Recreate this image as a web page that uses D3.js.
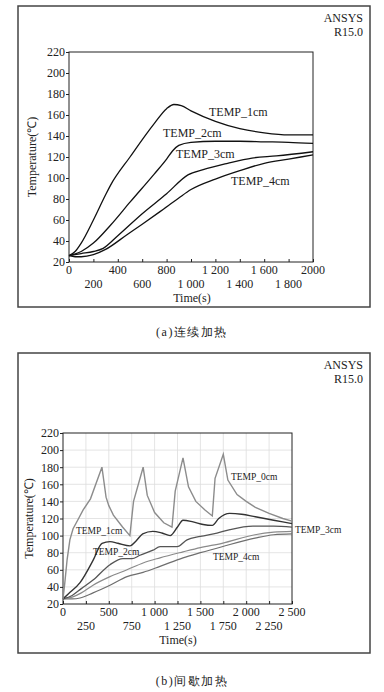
<!DOCTYPE html>
<html>
<head>
<meta charset="utf-8">
<script src="https://cdn.jsdelivr.net/npm/d3@7"></script>
<style>
  body { margin: 0; background: #fff; }
  text { font-family: "Liberation Serif", "Times New Roman", serif; fill: #222; }
</style>
</head>
<body>
<div id="chart"></div>
<script>
// (a) continuous heating, [time s, temperature C]
const contTemp1 = [[0,26],[50,30],[100,38],[200,60],[300,84],[340,93],[500,120],[700,152],[800,166],[860,170],[920,169],[1000,164],[1200,154],[1400,147],[1600,143],[1800,141],[2000,141]];
const contTemp2 = [[0,26],[100,30],[200,38],[340,55],[500,77],[700,104],[800,118],[850,126],[900,131],[1000,134],[1200,135],[1400,135],[1600,134.5],[1800,134],[2000,133]];
const contTemp3 = [[0,26],[100,28],[200,30],[280,33],[400,45],[600,66],[800,85],[975,103],[1100,108],[1300,114],[1500,119],[1700,121],[2000,125]];
const contTemp4 = [[0,26],[50,25],[100,25],[200,27],[300,32],[475,46],[600,56],[746,68],[900,81],[1000,89],[1200,99],[1400,107],[1600,114],[1800,118],[2000,122]];

// (b) intermittent heating
const intTemp0 = [[0,26],[20,45],[45,72],[75,95],[110,108],[160,118],[220,130],[300,143],[425,180],[470,145],[500,135],[550,124],[650,110],[730,100],[770,140],[875,180],[920,147],[1000,127],[1100,115],[1190,110],[1225,152],[1310,191],[1370,157],[1450,140],[1550,130],[1630,123],[1660,167],[1750,195],[1800,165],[1900,148],[2000,140],[2100,133],[2250,126],[2400,120],[2500,117]];
const intTemp1 = [[0,26],[60,32],[186,45],[328,71],[426,91],[513,93],[600,91],[731,88],[800,94],[870,102],[980,105],[1080,103],[1170,100],[1250,110],[1310,118],[1420,116],[1530,113],[1630,112],[1700,120],[1820,126],[1950,125],[2100,122],[2300,118],[2500,114]];
const intTemp2 = [[0,26],[100,30],[200,38],[328,48],[513,66],[655,73],[753,73],[840,77],[983,83],[1060,87],[1245,87],[1354,95],[1500,99],[1681,103],[1823,107],[2074,111],[2300,111],[2500,110]];
const intTemp3 = [[0,26],[100,28],[200,33],[328,42],[513,52],[699,60],[874,68],[1059,74],[1310,81],[1500,86],[1736,91],[2096,101],[2300,104],[2500,105]];
const intTemp4 = [[0,26],[100,26],[186,27],[328,33],[513,42],[699,52],[874,57],[1059,64],[1310,74],[1500,80],[1736,87],[2096,97],[2300,101],[2500,102]];

const yTicks = [20,40,60,80,100,120,140,160,180,200,220];
const contXTicks = [0,200,400,600,800,1000,1200,1400,1600,1800,2000];
const contXLabels = ["0","200","400","600","800","1 000","1 200","1 400","1 600","1 800","2000"];
const intXTicks = [0,250,500,750,1000,1250,1500,1750,2000,2250,2500];
const intXLabels = ["0","250","500","750","1 000","1 250","1 500","1 750","2 000","2 250","2 500"];

const svg = d3.select("#chart").append("svg")
    .attr("width", 384).attr("height", 692);
svg.append("rect").attr("width", 384).attr("height", 692).attr("fill", "#fff");

function panel(cfg) {
    // outer frame
    svg.append("rect")
       .attr("x", 18).attr("y", cfg.frameTop)
       .attr("width", 352).attr("height", cfg.frameBottom - cfg.frameTop)
       .attr("fill", "none").attr("stroke", "#444").attr("stroke-width", 1.5);

    svg.append("text").attr("x", 363).attr("y", cfg.frameTop + 16)
       .attr("text-anchor", "end").attr("font-size", 12).text("ANSYS");
    svg.append("text").attr("x", 363).attr("y", cfg.frameTop + 30)
       .attr("text-anchor", "end").attr("font-size", 12).text("R15.0");

    const x = d3.scaleLinear().domain([0, cfg.xMax]).range([cfg.left, cfg.right]);
    const y = d3.scaleLinear().domain([20, 220]).range([cfg.bottom, cfg.top]);

    const g = svg.append("g");

    // gridlines (only panel b)
    if (cfg.grid) {
        g.selectAll(".vg").data(cfg.xTicks.slice(1, -1)).enter().append("line")
         .attr("x1", d => x(d)).attr("x2", d => x(d))
         .attr("y1", cfg.top).attr("y2", cfg.bottom)
         .attr("stroke", "#ddd").attr("stroke-width", 0.8);
        g.selectAll(".hg").data(yTicks.slice(1, -1)).enter().append("line")
         .attr("x1", cfg.left).attr("x2", cfg.right)
         .attr("y1", d => y(d)).attr("y2", d => y(d))
         .attr("stroke", "#ddd").attr("stroke-width", 0.8);
    }

    // y axis ticks + labels
    const yAxis = d3.axisLeft(y).tickValues(yTicks).tickSize(3).tickPadding(1);
    const ya = svg.append("g").attr("transform", `translate(${cfg.left},0)`).call(yAxis);
    ya.select(".domain").remove();
    ya.selectAll("line").attr("stroke", "#222");
    ya.selectAll("text").attr("font-size", 12).attr("font-family", "Liberation Serif").attr("fill", "#222");

    // x axis: inward ticks, labels staggered in two rows
    const xAxis = d3.axisTop(x).tickValues(cfg.xTicks).tickSize(3).tickFormat("");
    const xa = svg.append("g").attr("transform", `translate(0,${cfg.bottom})`).call(xAxis);
    xa.select(".domain").remove();
    xa.selectAll("line").attr("stroke", "#222");

    svg.selectAll(null).data(cfg.xTicks).enter().append("text")
       .attr("x", d => x(d))
       .attr("y", (d, i) => cfg.bottom + (i % 2 === 0 ? 12 : 26))
       .attr("text-anchor", "middle").attr("font-size", 12)
       .text((d, i) => cfg.xLabels[i]);

    svg.append("text").attr("x", cfg.xTitleX).attr("y", cfg.bottom + 40)
       .attr("text-anchor", "middle").attr("font-size", 12).text("Time(s)");

    svg.append("text")
       .attr("transform", `translate(${cfg.yTitleX},${(cfg.top + cfg.bottom) / 2}) rotate(-90)`)
       .attr("text-anchor", "middle").attr("font-size", 12).text("Temperature(\u2103)");

    // plot box
    svg.append("rect")
       .attr("x", cfg.left).attr("y", cfg.top)
       .attr("width", cfg.right - cfg.left).attr("height", cfg.bottom - cfg.top)
       .attr("fill", "none").attr("stroke", "#222").attr("stroke-width", 1);

    // curves
    cfg.series.forEach(s => {
        const line = d3.line()
            .x(d => x(d[0])).y(d => y(d[1]))
            .curve(s.sharp ? d3.curveLinear : d3.curveMonotoneX);
        svg.append("path").datum(s.data)
           .attr("d", line)
           .attr("fill", "none").attr("stroke", s.color).attr("stroke-width", s.width);
    });

    // curve labels
    cfg.labels.forEach(l => {
        svg.append("text").attr("x", l.x).attr("y", l.y)
           .attr("dominant-baseline", "middle")
           .attr("font-size", cfg.labelSize).text(l.text);
    });

    // caption
    svg.append("text").attr("x", 192).attr("y", cfg.captionY)
       .attr("text-anchor", "middle").attr("dominant-baseline", "middle")
       .attr("font-size", 12).attr("font-family", "Noto Sans CJK SC")
       .attr("fill", "#333").attr("letter-spacing", 1.5)
       .text(cfg.caption);
}

panel({
    frameTop: 6, frameBottom: 307,
    left: 69, right: 313, top: 52, bottom: 262,
    xMax: 2000, xTicks: contXTicks, xLabels: contXLabels,
    xTitleX: 192, yTitleX: 36, grid: false,
    series: [
        {data: contTemp1, color: "#111", width: 1.3},
        {data: contTemp2, color: "#111", width: 1.3},
        {data: contTemp3, color: "#111", width: 1.3},
        {data: contTemp4, color: "#111", width: 1.3}
    ],
    labelSize: 12,
    labels: [
        {text: "TEMP_1cm", x: 209, y: 113},
        {text: "TEMP_2cm", x: 163, y: 134},
        {text: "TEMP_3cm", x: 176, y: 155},
        {text: "TEMP_4cm", x: 231, y: 182}
    ],
    caption: "(a)连续加热", captionY: 333
});

panel({
    frameTop: 353, frameBottom: 653,
    left: 63, right: 292, top: 433, bottom: 604,
    xMax: 2500, xTicks: intXTicks, xLabels: intXLabels,
    xTitleX: 178, yTitleX: 33, grid: true,
    series: [
        {data: intTemp4, color: "#6e6e6e", width: 1.2},
        {data: intTemp3, color: "#8a8a8a", width: 1.2},
        {data: intTemp2, color: "#555", width: 1.3},
        {data: intTemp1, color: "#333", width: 1.4},
        {data: intTemp0, color: "#8c8c8c", width: 1.4, sharp: true}
    ],
    labelSize: 9.5,
    labels: [
        {text: "TEMP_0cm", x: 231, y: 478},
        {text: "TEMP_1cm", x: 76, y: 532},
        {text: "TEMP_2cm", x: 93, y: 553},
        {text: "TEMP_3cm", x: 295, y: 531},
        {text: "TEMP_4cm", x: 213, y: 558}
    ],
    caption: "(b)间歇加热", captionY: 682
});
</script>
</body>
</html>
